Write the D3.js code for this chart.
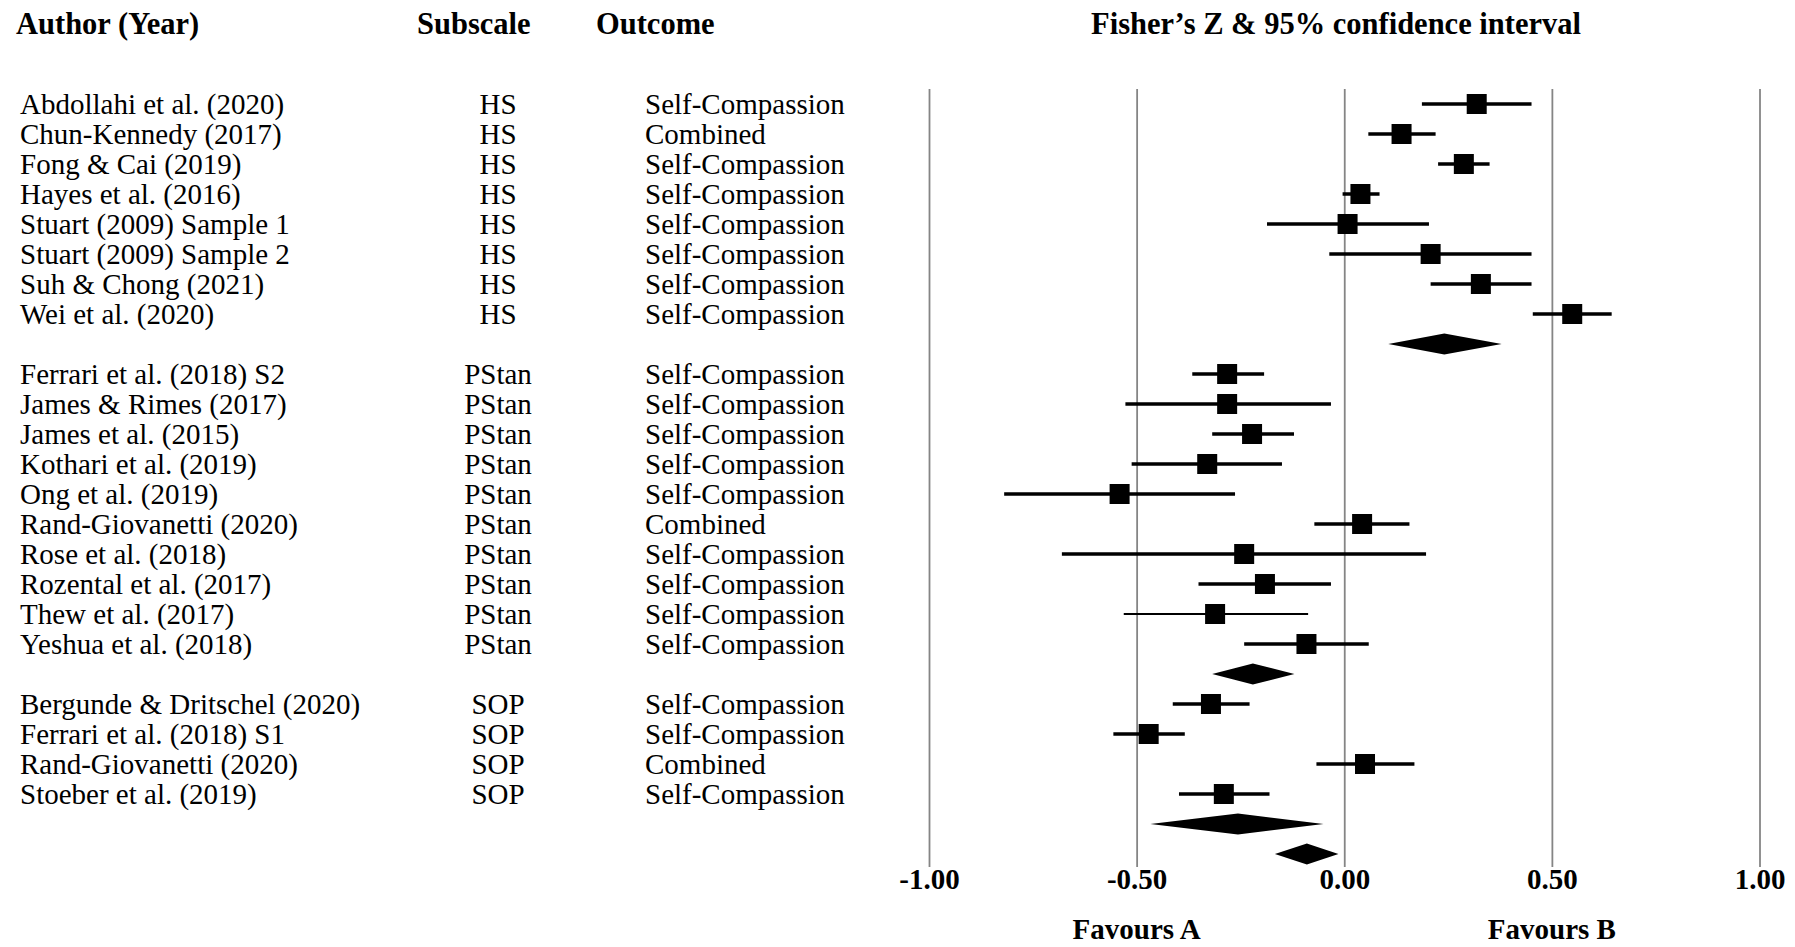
<!DOCTYPE html>
<html>
<head>
<meta charset="utf-8">
<script src="https://cdn.jsdelivr.net/npm/d3@7"></script>
<style>
  body { margin: 0; background: #fff; }
  svg text { font-family: "Liberation Serif", "Times New Roman", serif; fill: #000; }
</style>
</head>
<body>
<svg id="chart" width="1795" height="947"></svg>
<script>
// Individual studies
const authors = [
  "Abdollahi et al. (2020)", "Chun-Kennedy (2017)", "Fong & Cai (2019)", "Hayes et al. (2016)",
  "Stuart (2009) Sample 1", "Stuart (2009) Sample 2", "Suh & Chong (2021)", "Wei et al. (2020)",
  "Ferrari et al. (2018) S2", "James & Rimes (2017)", "James et al. (2015)", "Kothari et al. (2019)",
  "Ong et al. (2019)", "Rand-Giovanetti (2020)", "Rose et al. (2018)", "Rozental et al. (2017)",
  "Thew et al. (2017)", "Yeshua et al. (2018)",
  "Bergunde & Dritschel (2020)", "Ferrari et al. (2018) S1", "Rand-Giovanetti (2020)", "Stoeber et al. (2019)"
];
const subscales = [
  "HS", "HS", "HS", "HS", "HS", "HS", "HS", "HS",
  "PStan", "PStan", "PStan", "PStan", "PStan", "PStan", "PStan", "PStan", "PStan", "PStan",
  "SOP", "SOP", "SOP", "SOP"
];
const outcomes = [
  "Self-Compassion", "Combined", "Self-Compassion", "Self-Compassion", "Self-Compassion",
  "Self-Compassion", "Self-Compassion", "Self-Compassion",
  "Self-Compassion", "Self-Compassion", "Self-Compassion", "Self-Compassion", "Self-Compassion",
  "Combined", "Self-Compassion", "Self-Compassion", "Self-Compassion", "Self-Compassion",
  "Self-Compassion", "Self-Compassion", "Combined", "Self-Compassion"
];
const fisherZ = [
  0.319, 0.138, 0.288, 0.039, 0.008, 0.208, 0.329, 0.549,
  -0.282, -0.282, -0.222, -0.330, -0.541, 0.043, -0.241, -0.191, -0.311, -0.091,
  -0.321, -0.471, 0.050, -0.290
];
const ciLower = [
  0.187, 0.058, 0.226, -0.004, -0.186, -0.036, 0.208, 0.454,
  -0.366, -0.527, -0.318, -0.512, -0.819, -0.072, -0.680, -0.351, -0.531, -0.241,
  -0.413, -0.556, -0.067, -0.398
];
const ciUpper = [
  0.451, 0.220, 0.350, 0.085, 0.204, 0.451, 0.451, 0.644,
  -0.193, -0.032, -0.121, -0.150, -0.263, 0.157, 0.197, -0.032, -0.087, 0.059,
  -0.228, -0.384, 0.169, -0.180
];

// Pooled estimates per subscale, then the overall estimate
const subgroups = ["HS", "PStan", "SOP"];
const pooledZ = [0.241, -0.220, -0.256];
const pooledLower = [0.106, -0.318, -0.467];
const pooledUpper = [0.379, -0.120, -0.050];
const overallZ = -0.090;
const overallLower = -0.167;
const overallUpper = -0.014;

// Axis
const tickValues = [-1, -0.5, 0, 0.5, 1];
const favourLabels = [{ at: -0.5, text: "Favours A" }, { at: 0.5, text: "Favours B" }];
const headers = {
  author: "Author (Year)", subscale: "Subscale", outcome: "Outcome",
  effect: "Fisher\u2019s Z & 95% confidence interval"
};

// Row layout: studies of each subscale, then its pooled diamond, then the overall diamond
const rows = [];
subgroups.forEach((g, gi) => {
  authors.forEach((a, i) => { if (subscales[i] === g) rows.push({ kind: "study", i }); });
  rows.push({ kind: "pooled", z: pooledZ[gi], lo: pooledLower[gi], hi: pooledUpper[gi] });
});
rows.push({ kind: "pooled", z: overallZ, lo: overallLower, hi: overallUpper });
rows.forEach((r, k) => r.row = k);

const thinCI = new Set(["Thew et al. (2017)"]);

const svg = d3.select("#chart");
const x = d3.scaleLinear().domain([-1, 1]).range([929, 1759.5]);
const y = d3.scaleLinear().domain([0, rows.length - 1]).range([104, 854]);
const gridTop = 89, gridBottom = 867;
const fontSize = 29;
const headSize = 30.5;

// Column headers
const head = svg.append("g").attr("font-weight", "bold").attr("font-size", headSize);
head.append("text").attr("x", 16).attr("y", 34).text(headers.author);
head.append("text").attr("x", 417).attr("y", 34).text(headers.subscale);
head.append("text").attr("x", 596).attr("y", 34).text(headers.outcome);
head.append("text").attr("x", 1336).attr("y", 34).attr("text-anchor", "middle").text(headers.effect);

// Vertical gridlines with bold tick labels
const axis = d3.axisBottom(x)
  .tickValues(tickValues)
  .tickSizeInner(-(gridBottom - gridTop))
  .tickSizeOuter(0)
  .tickPadding(1)
  .tickFormat(d => d.toFixed(2));
const axisG = svg.append("g").attr("transform", `translate(0,${gridBottom})`).call(axis);
axisG.select(".domain").remove();
axisG.selectAll(".tick line").attr("stroke", "#858585").attr("stroke-width", 1.8);
axisG.selectAll(".tick text")
  .attr("font-family", "Liberation Serif, Times New Roman, serif")
  .attr("font-size", fontSize).attr("font-weight", "bold").attr("fill", "#000");

svg.append("g").attr("font-weight", "bold").attr("font-size", fontSize)
  .selectAll("text").data(favourLabels).join("text")
  .attr("x", d => x(d.at)).attr("y", 939).attr("text-anchor", "middle")
  .text(d => d.text);

// Study rows: labels, CI lines and squares
const studyRows = rows.filter(r => r.kind === "study");
const labels = svg.append("g").attr("font-size", fontSize);
labels.selectAll("text.author").data(studyRows).join("text").attr("class", "author")
  .attr("x", 20).attr("y", d => y(d.row) + 10).text(d => authors[d.i]);
labels.selectAll("text.sub").data(studyRows).join("text").attr("class", "sub")
  .attr("x", 498).attr("y", d => y(d.row) + 10).attr("text-anchor", "middle").text(d => subscales[d.i]);
labels.selectAll("text.out").data(studyRows).join("text").attr("class", "out")
  .attr("x", 645).attr("y", d => y(d.row) + 10).text(d => outcomes[d.i]);

const marks = svg.append("g");
marks.selectAll("line.ci").data(studyRows).join("line").attr("class", "ci")
  .attr("x1", d => x(ciLower[d.i])).attr("x2", d => x(ciUpper[d.i]))
  .attr("y1", d => y(d.row)).attr("y2", d => y(d.row))
  .attr("stroke", "#000").attr("stroke-width", d => thinCI.has(authors[d.i]) ? 2.2 : 3.6);
const sq = 20;
marks.selectAll("rect.pt").data(studyRows).join("rect").attr("class", "pt")
  .attr("x", d => x(fisherZ[d.i]) - sq / 2).attr("y", d => y(d.row) - sq / 2)
  .attr("width", sq).attr("height", sq).attr("fill", "#000");

// Pooled diamonds
const dh = 10.5;
marks.selectAll("path.diamond").data(rows.filter(r => r.kind === "pooled")).join("path")
  .attr("class", "diamond")
  .attr("d", d => {
    const cy = y(d.row);
    return `M${x(d.lo)},${cy}L${x(d.z)},${cy - dh}L${x(d.hi)},${cy}L${x(d.z)},${cy + dh}Z`;
  })
  .attr("fill", "#000");
</script>
</body>
</html>
